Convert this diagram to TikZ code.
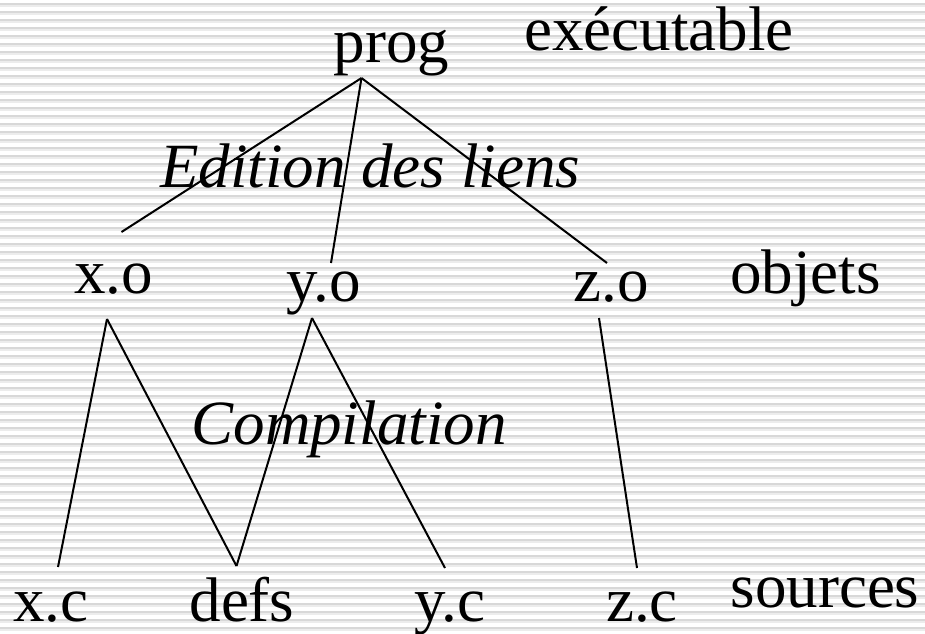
\documentclass[tikz,border=0pt]{standalone}
\usepackage{fontspec}
\setmainfont{Liberation Serif}
\usepackage{tikz}
\definecolor{stripedark}{RGB}{216,216,216}
\definecolor{stripelight}{RGB}{236,236,236}
\tikzset{
  word/.style={inner sep=0pt,anchor=base,font=\fontsize{63}{75}\selectfont},
  stage/.style={word,font=\fontsize{63}{75}\selectfont\itshape},
  link/.style={line width=2pt,black}
}

\begin{document}
\begin{tikzpicture}[x=1pt,y=-1pt]
  \useasboundingbox (0,0) rectangle (925,633);
  % striped backdrop
  \fill[white] (0,0) rectangle (925,633);
  \foreach \k in {0,...,78} {
    \fill[stripedark] (0,3+8*\k) rectangle (925,5+8*\k);
    \fill[stripelight] (0,5+8*\k) rectangle (925,6.5+8*\k);
  }
  % files and stage names
  \node[word] (prog) at (391.5,62) {prog};
  \node[word] (exe) at (659,50) {exécutable};
  \node[stage] (edition) at (370,187) {Edition des liens};
  \node[word] (xo) at (113.5,293) {x.o};
  \node[word] (yo) at (323.5,301) {y.o};
  \node[word] (zo) at (611.5,301) {z.o};
  \node[word] (objets) at (805.5,293) {objets};
  \node[stage] (compil) at (349,444) {Compilation};
  \node[word] (xc) at (51,621) {x.c};
  \node[word] (defs) at (242,621) {defs};
  \node[word] (yc) at (450,621) {y.c};
  \node[word] (zc) at (642,621) {z.c};
  \node[word] (sources) at (825,607) {sources};
  % link edition
  \draw[link] ([xshift=-30pt,yshift=-16pt]prog.base) -- ([xshift=8pt,yshift=61pt]xo.base);
  \draw[link] ([xshift=-30pt,yshift=-16pt]prog.base) -- ([xshift=7.5pt,yshift=38pt]yo.base);
  \draw[link] ([xshift=-30pt,yshift=-16pt]prog.base) -- ([xshift=-4.5pt,yshift=38pt]zo.base);
  % compilation
  \draw[link] ([xshift=-6.5pt,yshift=-26pt]xo.base) -- ([xshift=7pt,yshift=54pt]xc.base);
  \draw[link] ([xshift=-6.5pt,yshift=-26pt]xo.base) -- ([xshift=-5.5pt,yshift=55pt]defs.base);
  \draw[link] ([xshift=-11.5pt,yshift=-17pt]yo.base) -- ([xshift=-5.5pt,yshift=55pt]defs.base);
  \draw[link] ([xshift=-11.5pt,yshift=-17pt]yo.base) -- ([xshift=-5pt,yshift=53pt]yc.base);
  \draw[link] ([xshift=-12.5pt,yshift=-17pt]zo.base) -- ([xshift=-5pt,yshift=53pt]zc.base);
\end{tikzpicture}
\end{document}
